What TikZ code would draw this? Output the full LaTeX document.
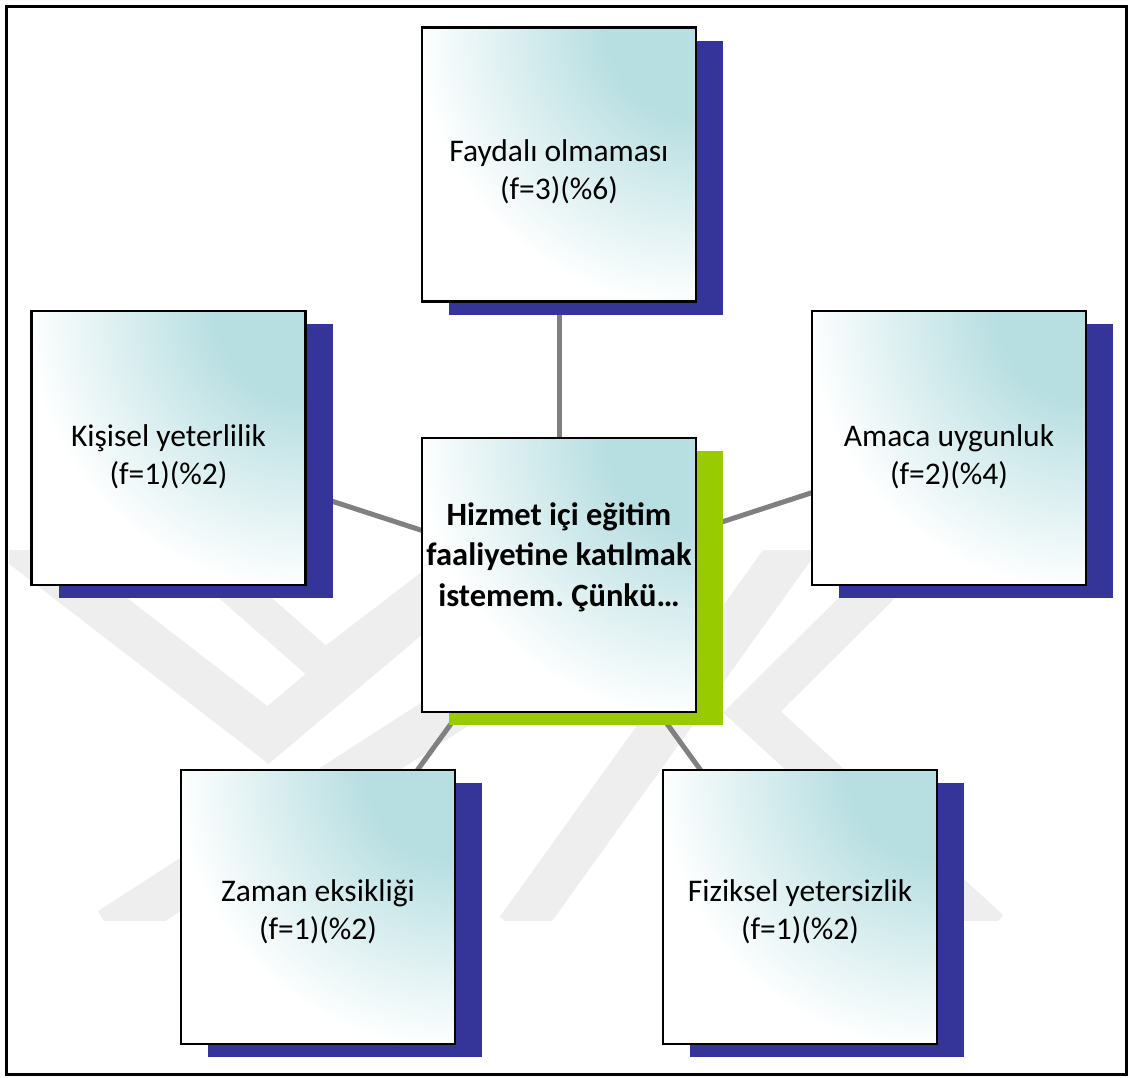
\documentclass[tikz,border=0pt]{standalone}
\usepackage{fontspec}
\setmainfont{Carlito}
\usetikzlibrary{shadows}
\definecolor{navy}{RGB}{53,53,153}
\definecolor{lgreen}{RGB}{153,204,0}
\definecolor{tealc}{RGB}{183,222,225}
\definecolor{connc}{RGB}{128,128,128}
\definecolor{wmc}{RGB}{238,238,238}
\pgfdeclareradialshading{tealcorner}{\pgfpoint{0bp}{0bp}}{color(0bp)=(tealc); color(5.5bp)=(tealc); color(17.5bp)=(white); color(50bp)=(white)}
\pgfdeclarelayer{wmlayer}
\pgfdeclarelayer{connlayer}
\pgfsetlayers{wmlayer,connlayer,main}
\frenchspacing
\begin{document}
\begin{tikzpicture}[x=1pt,y=-1pt,
  box/.style={draw=black, line width=2.2pt, fill=white, minimum width=274pt, minimum height=274pt, inner sep=0pt,
    path picture={\shade[shading=tealcorner] (path picture bounding box.north east) circle (400pt);}},
  navyshadow/.style={drop shadow={shadow xshift=27pt, shadow yshift=-13pt, fill=navy, opacity=1}},
  greenshadow/.style={drop shadow={shadow xshift=27pt, shadow yshift=-13pt, fill=lgreen, opacity=1}},
  lbl/.style={align=center, font=\fontsize{31.5}{38}\selectfont, inner sep=0pt},
  blbl/.style={align=center, font=\fontsize{32.5}{40.5}\selectfont\bfseries, inner sep=0pt},
  link/.style={draw=connc, line width=5pt},
  band/.style={draw=wmc, line width=45pt}
]
\useasboundingbox (0,0) rectangle (1130,1077);

\node[box,navyshadow] (top) at (559,164.5) {};
\node[box,navyshadow] (left) at (168.5,448) {};
\node[box,navyshadow] (right) at (949,448) {};
\node[box,navyshadow] (bl) at (318,907) {};
\node[box,navyshadow] (br) at (800,907) {};
\node[box,greenshadow] (center) at (559,575) {};

\node[lbl] (topt) at (559,172) {Faydalı olmaması\\(f=3)(\%6)};
\node[lbl] (leftt) at (168.5,457) {Kişisel yeterlilik\\(f=1)(\%2)};
\node[lbl] (rightt) at (949,457) {Amaca uygunluk\\(f=2)(\%4)};
\node[lbl] (blt) at (318,912) {Zaman eksikliği\\(f=1)(\%2)};
\node[lbl] (brt) at (800,912) {Fiziksel yetersizlik\\(f=1)(\%2)};
\node[blbl] (centert) at (559,557) {Hizmet içi eğitim\\faaliyetine katılmak\\istemem. Çünkü…};

\begin{pgfonlayer}{connlayer}
\draw[link] (center.center) -- (top.center);
\draw[link] (center.center) -- (left.center);
\draw[link] (center.center) -- (right.center);
\draw[link] (center.center) -- (bl.center);
\draw[link] (center.center) -- (br.center);
\end{pgfonlayer}

\begin{pgfonlayer}{wmlayer}
\begin{scope}
\clip (9,550) rectangle (1124,920);
\draw[band] (15,540) -- (268,735) -- (470,565);
\draw[band, line width=35pt] (225,580) -- (325,668) -- (440,580);
\draw[band] (110,930) -- (490,685);
\draw[band] (518,930) -- (805,530);
\draw[band, line width=40pt] (990,930) -- (752,712) -- (905,560);
\end{scope}
\end{pgfonlayer}

\draw[line width=3pt] (6.5,6.5) rectangle (1126.5,1074.5);
\end{tikzpicture}
\end{document}
